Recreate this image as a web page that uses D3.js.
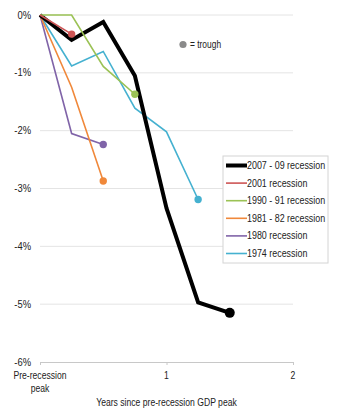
<!DOCTYPE html>
<html>
<head>
<meta charset="utf-8">
<script src="https://cdn.jsdelivr.net/npm/d3@7"></script>
<style>
  body { margin: 0; background: #fff; }
  text { font-family: "Liberation Sans", Arial, sans-serif; fill: #222; }
</style>
</head>
<body>
<script>
// recession names, legend order
var recessions = ["2007 - 09 recession", "2001 recession", "1990 - 91 recession",
                  "1981 - 82 recession", "1980 recession", "1974 recession"];
var colors = ["#000000", "#cd5555", "#9bc255", "#f0883a", "#8064a8", "#45b1d0"];

// years since peak and % change from peak
var years = [0, 0.25, 0.5, 0.75, 1, 1.25, 1.5];
var vals2007 = [0, -0.43, -0.12, -1.05, -3.34, -4.97, -5.15];
var vals2001 = [0, -0.33];
var vals1990 = [0, 0, -0.89, -1.37];
var vals1981 = [0, -1.25, -2.87];
var vals1980 = [0, -2.05, -2.24];
var vals1974 = [0, -0.88, -0.63, -1.61, -2.02, -3.19];
var seriesVals = [vals2007, vals2001, vals1990, vals1981, vals1980, vals1974];

var yTicks = [0, -1, -2, -3, -4, -5, -6];
var xTicks = [0, 1, 2];
var xTickLabels = [["Pre-recession", "peak"], ["1"], ["2"]];
var xTitle = "Years since pre-recession GDP peak";
var troughLabel = "= trough";

var svgWidth = 340, svgHeight = 415;
var margin = {top: 15, right: 47, bottom: 53, left: 40};
var width = svgWidth - margin.left - margin.right,
    height = svgHeight - margin.top - margin.bottom;

// squeeze text horizontally, the source font is a condensed one
function condense(sel, k) {
  sel.each(function(){
    var w = this.getComputedTextLength();
    d3.select(this).attr("textLength", w * k).attr("lengthAdjust", "spacingAndGlyphs");
  });
}

var svg = d3.select("body").append("svg")
    .attr("width", svgWidth)
    .attr("height", svgHeight);
var g = svg.append("g")
    .attr("transform", "translate(" + margin.left + "," + margin.top + ")");

var x = d3.scaleLinear().domain([0, 2]).range([0, width]);
var y = d3.scaleLinear().domain([-6, 0]).range([height, 0]);

// gridlines
g.selectAll(".grid").data(yTicks.filter(function(d){ return d > -6; }))
  .enter().append("line")
    .attr("x1", 0).attr("x2", width)
    .attr("y1", function(d){ return y(d); })
    .attr("y2", function(d){ return y(d); })
    .attr("stroke", "#e4e4e4").attr("stroke-width", 1);

// y labels
g.selectAll(".ylab").data(yTicks).enter().append("text")
    .attr("x", -9).attr("y", function(d){ return y(d); })
    .attr("dy", "0.35em")
    .attr("text-anchor", "end")
    .attr("font-size", "10px")
    .text(function(d){ return d + "%"; })
    .call(condense, 0.94);

// x axis
var xAxis = g.append("g")
    .attr("transform", "translate(0," + height + ")")
    .call(d3.axisBottom(x).tickValues(xTicks).tickSize(3).tickFormat(""));
xAxis.select(".domain").attr("stroke", "#c8c8c8");
xAxis.selectAll(".tick line").attr("stroke", "#c8c8c8");

xTicks.forEach(function(t, i){
  xTickLabels[i].forEach(function(s, j){
    g.append("text")
        .attr("x", x(t)).attr("y", height + 17 + j * 13)
        .attr("text-anchor", "middle")
        .attr("font-size", "10px")
        .text(s)
        .call(condense, 0.86);
  });
});

g.append("text")
    .attr("x", x(1)).attr("y", height + 44)
    .attr("text-anchor", "middle")
    .attr("font-size", "10px")
    .text(xTitle)
    .call(condense, 0.86);

// lines, drawn so the 1974 one sits under the black one
var drawOrder = [5, 4, 3, 0, 2, 1];
var line = d3.line()
    .x(function(d, i){ return x(years[i]); })
    .y(function(d){ return y(d); });

drawOrder.forEach(function(k){
  var v = seriesVals[k];
  g.append("path")
      .datum(v)
      .attr("fill", "none")
      .attr("stroke", colors[k])
      .attr("stroke-width", k === 0 ? 4 : 1.6)
      .attr("stroke-linejoin", "miter")
      .attr("d", line);
  var last = v.length - 1;
  g.append("circle")
      .attr("cx", x(years[last]))
      .attr("cy", y(v[last]))
      .attr("r", k === 0 ? 5 : 3.7)
      .attr("fill", colors[k]);
});

// trough note
g.append("circle")
    .attr("cx", 143).attr("cy", 29.5).attr("r", 3.6)
    .attr("fill", "#8a8a8a");
g.append("text")
    .attr("x", 150).attr("y", 29.5).attr("dy", "0.35em")
    .attr("font-size", "10px")
    .text(troughLabel)
    .call(condense, 0.84);

// legend
var legend = svg.append("g").attr("transform", "translate(223,156)");
legend.append("rect")
    .attr("width", 105).attr("height", 107)
    .attr("fill", "#fff").attr("stroke", "#d4d4d4");
recessions.forEach(function(name, i){
  var ly = 9.5 + i * 17.6;
  legend.append("line")
      .attr("x1", 3).attr("x2", 24)
      .attr("y1", ly).attr("y2", ly)
      .attr("stroke", colors[i])
      .attr("stroke-width", i === 0 ? 4 : 1.6);
  legend.append("text")
      .attr("x", 24).attr("y", ly).attr("dy", "0.35em")
      .attr("font-size", "10px")
      .text(name)
      .call(condense, 0.89);
});
</script>
</body>
</html>
